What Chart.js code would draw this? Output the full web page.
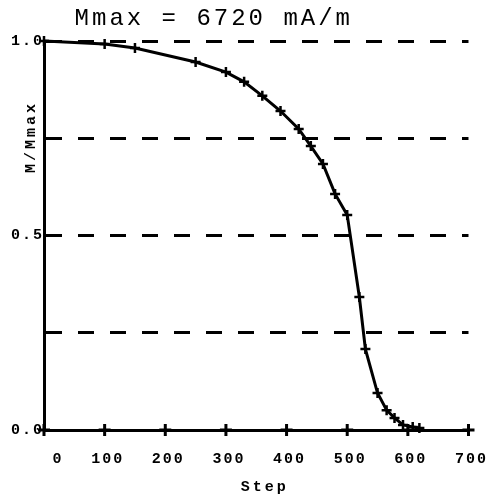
<!DOCTYPE html>
<html>
<head>
<meta charset="utf-8">
<script src="https://cdn.jsdelivr.net/npm/chart.js@4/dist/chart.umd.min.js"></script>
<style>
  html, body { margin: 0; padding: 0; background: #fff; }
  #wrap { width: 502px; height: 495px; }
</style>
</head>
<body>
<div id="wrap"><canvas id="magChart" width="502" height="495"></canvas></div>
<script>
// values
const steps = [0, 100, 150, 250, 300, 330, 360, 390, 420, 440, 460, 480, 500, 520, 530, 550, 565, 578, 592, 608, 619];
const ratio = [1.0, 0.992, 0.982, 0.946, 0.920, 0.895, 0.859, 0.820, 0.774, 0.730, 0.684, 0.607, 0.553, 0.342, 0.208, 0.095, 0.051, 0.031, 0.013, 0.008, 0.005];
const axisSteps = [0, 100, 200, 300, 400, 500, 600, 700];
const axisZero = [0, 0, 0, 0, 0, 0, 0, 0];
const yLabelValues = [0, 0.5, 1.0];

const titleText = 'Mmax = 6720 mA/m';
const yTitleText = 'M/Mmax';
const xTitleText = 'Step';

const monoFont = "'Liberation Mono', 'DejaVu Sans Mono', monospace";

function toPoints(xs, ys) {
    return xs.map((x, i) => ({ x: x, y: ys[i] }));
}

// wide, scanned-looking typewriter text + the free-placed titles
const textPlugin = {
    id: 'textPlugin',
    beforeDraw(chart) {
        chart.ctx.letterSpacing = '2px';
    },
    afterDraw(chart) {
        const ctx = chart.ctx;
        const area = chart.chartArea;
        ctx.save();
        ctx.fillStyle = '#000';
        ctx.textAlign = 'center';
        ctx.textBaseline = 'middle';

        ctx.letterSpacing = '3px';
        ctx.font = '24px ' + monoFont;
        ctx.fillText(titleText, area.left + (area.right - area.left) * 0.4, 19);

        ctx.letterSpacing = '3px';
        ctx.font = 'bold 15px ' + monoFont;
        ctx.fillText(xTitleText, area.left + (area.right - area.left) * 0.52, 487);

        ctx.translate(31, 137);
        ctx.rotate(-Math.PI / 2);
        ctx.fillText(yTitleText, 0, 0);
        ctx.restore();
        ctx.letterSpacing = '0px';
    }
};

const canvas = document.getElementById('magChart');
new Chart(canvas.getContext('2d'), {
    type: 'scatter',
    data: {
        datasets: [{
            label: 'M/Mmax',
            data: toPoints(steps, ratio),
            showLine: true,
            borderColor: '#000',
            borderWidth: 3,
            tension: 0,
            pointStyle: 'cross',
            pointRadius: 5,
            pointBorderWidth: 2.5,
            pointBorderColor: '#000',
            clip: false
        }, {
            label: 'axis',
            data: toPoints(axisSteps, axisZero),
            showLine: false,
            pointStyle: 'cross',
            pointRadius: 6,
            pointBorderWidth: 3,
            pointBorderColor: '#000',
            clip: false
        }]
    },
    options: {
        responsive: false,
        animation: false,
        layout: { padding: { top: 41, right: 33, left: 0, bottom: 0 } },
        plugins: {
            legend: { display: false },
            title: { display: false },
            tooltip: { enabled: false }
        },
        scales: {
            x: {
                type: 'linear',
                min: 0,
                max: 700,
                afterFit(scale) { scale.height = 65; },
                grid: { drawOnChartArea: false, drawTicks: false },
                border: { display: true, color: '#000', width: 3 },
                ticks: {
                    stepSize: 100,
                    padding: 20,
                    labelOffset: 3,
                    color: '#000',
                    font: { family: monoFont, size: 15, weight: 'bold' },
                    callback: v => String(v).padStart(3, ' ')
                },
                title: { display: false }
            },
            y: {
                type: 'linear',
                min: 0,
                max: 1,
                afterFit(scale) { scale.width = 44; },
                grid: {
                    drawTicks: false,
                    lineWidth: 3,
                    color: c => (c.tick && c.tick.value === 0) ? 'rgba(0,0,0,0)' : '#000'
                },
                border: { display: true, color: '#000', width: 3, dash: [16, 16] },
                ticks: {
                    stepSize: 0.25,
                    padding: 0,
                    color: '#000',
                    font: { family: monoFont, size: 15, weight: 'bold' },
                    callback: v => yLabelValues.includes(v) ? v.toFixed(1) : ''
                }
            }
        }
    },
    plugins: [textPlugin]
});
</script>
</body>
</html>
